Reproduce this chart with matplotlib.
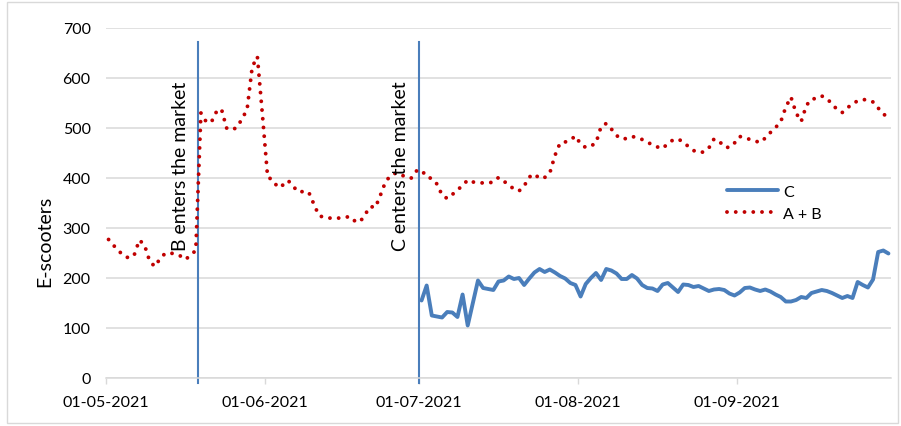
import matplotlib
matplotlib.use("Agg")
import matplotlib.pyplot as plt
import matplotlib.dates as mdates
from matplotlib.patches import Rectangle
import pandas as pd

plt.rcParams['font.family'] = ['Lato', 'DejaVu Sans']

# Daily E-scooter counts
ab_may = [277, 265, 254, 244, 240, 246, 276, 266, 234, 223, 238, 249, 250, 248, 244, 237,
          246, 255, 530, 513, 511, 532, 538, 500, 496, 501, 518, 537, 622, 643, 525]
ab_jun = [402, 396, 381, 386, 395, 383, 372, 373, 372, 348, 325, 321, 320, 319, 320, 321,
          323, 314, 312, 327, 343, 341, 366, 393, 405, 410, 407, 401, 400, 414]
ab_jul = [416, 402, 399, 388, 366, 359, 367, 376, 385, 396, 392, 391, 390, 390, 392, 401,
          394, 386, 378, 374, 384, 402, 408, 399, 401, 410, 445, 470, 472, 476, 484]
ab_aug = [468, 461, 464, 470, 503, 509, 498, 485, 478, 479, 483, 481, 477, 472, 466, 462,
          459, 469, 476, 478, 472, 463, 455, 451, 452, 460, 478, 474, 462, 461, 470]
ab_sep = [483, 481, 477, 474, 471, 480, 491, 501, 512, 542, 562, 530, 513, 545, 558, 559,
          564, 559, 548, 537, 531, 540, 549, 554, 557, 556, 552, 540, 528, 521]

c_jul = [155, 185, 125, 123, 121, 132, 131, 122, 167, 105, 150, 195, 180, 178, 176, 193,
         195, 203, 198, 200, 186, 199, 211, 218, 212, 217, 211, 204, 199, 190, 186]
c_aug = [163, 188, 200, 210, 196, 218, 215, 209, 198, 198, 206, 199, 186, 180, 179, 174,
         187, 190, 181, 172, 187, 186, 182, 184, 179, 174, 177, 178, 176, 169, 165]
c_sep = [171, 180, 181, 177, 174, 177, 173, 167, 162, 153, 153, 156, 162, 160, 170, 173,
         176, 174, 170, 165, 160, 164, 160, 192, 186, 181, 197, 252, 255, 249]

ab_values = ab_may + ab_jun + ab_jul + ab_aug + ab_sep
c_values = c_jul + c_aug + c_sep

ab_dates = pd.date_range("2021-05-01", periods=len(ab_values), freq="D")
c_dates = pd.date_range("2021-07-01", periods=len(c_values), freq="D")

tick_dates = pd.to_datetime(["2021-05-01", "2021-06-01", "2021-07-01", "2021-08-01", "2021-09-01"])
y_ticks = [0, 100, 200, 300, 400, 500, 600, 700]

events = [("2021-05-19", "B enters the market"), ("2021-07-01", "C enters the market")]

blue = "#4a7ebb"
red = "#c00000"
grid_grey = "#d9d9d9"

fig = plt.figure(figsize=(9.01, 4.27), dpi=100)
ax = fig.add_axes([106 / 901, 1 - 379 / 427, 785 / 901, 350 / 427])

# each daily value sits in the middle of its day on the date axis
half_day = pd.Timedelta(hours=12)
ax.plot(c_dates + half_day, c_values, color=blue, lw=2.8, solid_joinstyle="round",
        solid_capstyle="round", label="C", zorder=3)
ax.plot(ab_dates + half_day, ab_values, color=red, lw=2.8,
        linestyle=(0, (0.001, 2.25)), dash_capstyle="round", label="A + B", zorder=3)

ax.set_xlim(pd.Timestamp("2021-05-01"), pd.Timestamp("2021-10-01"))
ax.set_ylim(0, 700)
ax.set_yticks(y_ticks)
ax.set_xticks(tick_dates)
ax.xaxis.set_major_formatter(mdates.DateFormatter("%d-%m-%Y"))

ax.grid(axis="y", color=grid_grey, lw=1.1, zorder=0)
ax.set_axisbelow(True)
for side in ("top", "right", "left"):
    ax.spines[side].set_visible(False)
ax.spines["bottom"].set_color(grid_grey)
ax.spines["bottom"].set_linewidth(1.1)
ax.tick_params(axis="x", length=4, width=1, color=grid_grey, pad=8.5, labelsize=11.5,
               labelcolor="black")
ax.tick_params(axis="y", length=0, pad=11, labelsize=11.5, labelcolor="black")

# market entry markers
for day, label in events:
    d = pd.Timestamp(day)
    ax.axvline(d, ymin=-0.014, ymax=0.96, color=blue, lw=1.5, clip_on=False, zorder=2)
    ax.annotate(label, xy=(d, 256), xytext=(-7, 0), textcoords="offset points",
                rotation=90, ha="right", va="bottom", fontsize=14, color="black", zorder=4)

fig.text(45 / 901, 1 - 241 / 427, "E-scooters", rotation=90, ha="center", va="center",
         fontsize=14)

ax.legend(loc="upper left", bbox_to_anchor=(0.791, 0.553), frameon=False, fontsize=11.5,
          handlelength=3.2, handletextpad=0.3, labelspacing=0.5, borderpad=0,
          borderaxespad=0)

fig.patches.append(Rectangle((7 / 901, 3 / 427), 891 / 901, 421 / 427,
                             transform=fig.transFigure, fill=False,
                             edgecolor=grid_grey, lw=1))

fig.savefig("out.png", dpi=100)
